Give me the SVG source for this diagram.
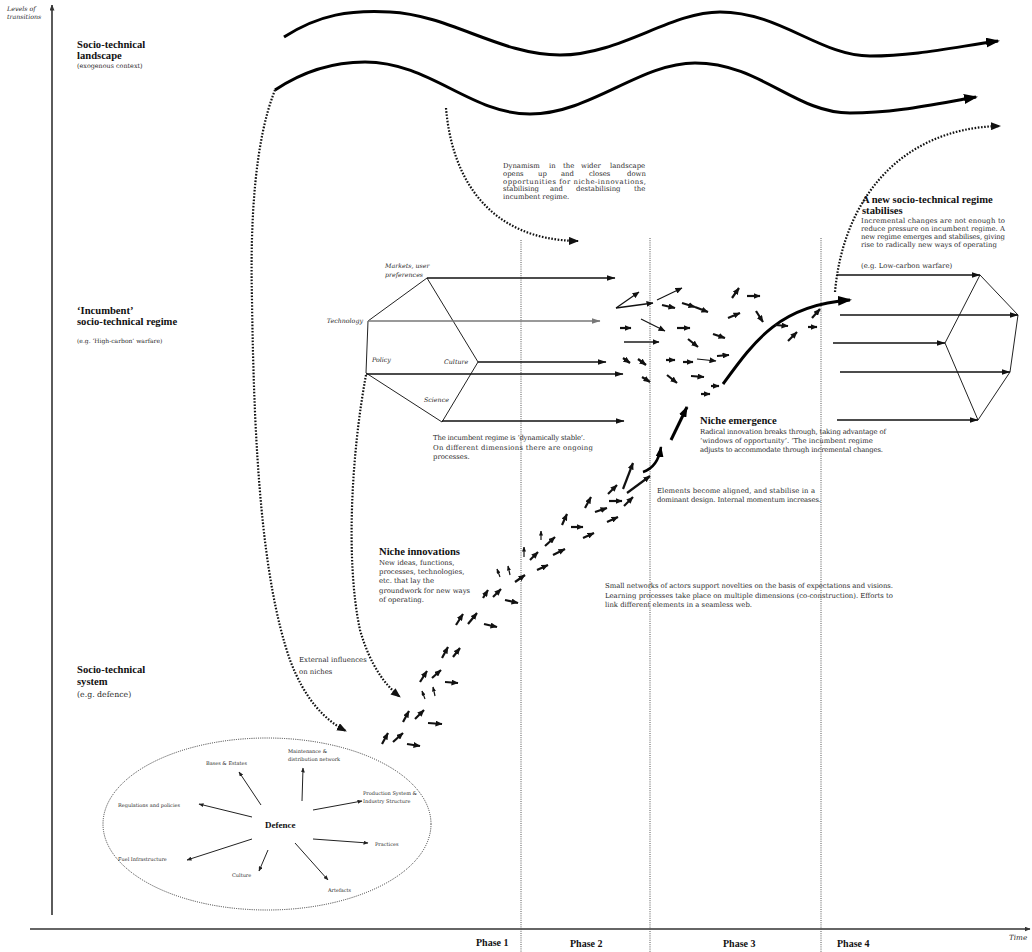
<svg xmlns="http://www.w3.org/2000/svg" width="1032" height="952" viewBox="0 0 1032 952">
<style>
text{font-family:"DejaVu Serif","Liberation Serif",serif;fill:#2a2a2a;font-size:6.9px}
.h{font-family:"Liberation Serif","DejaVu Serif",serif;font-weight:bold;font-size:10.6px;fill:#111}
.i{font-style:italic;font-size:6.3px}
.s{font-size:5px}
.ph{font-family:"Liberation Serif",serif;font-weight:bold;font-size:10px;fill:#111}
.edge{stroke:#222;stroke-width:1;fill:none}
.dim{stroke:#111;stroke-width:1.4;marker-end:url(#ah)}
.sw{stroke:#111;stroke-width:2.2;marker-end:url(#as)}
.swt{stroke:#111;stroke-width:1.1;marker-end:url(#as)}
.sws{stroke:#111;stroke-width:1.2;marker-end:url(#ass)}
.dot{stroke:#111;stroke-width:2.2;stroke-dasharray:1.6 1.6;fill:none;marker-end:url(#ad)}
.pl{stroke:#555;stroke-width:1;stroke-dasharray:1 1.2;fill:none}
.wave{stroke:#000;stroke-width:3;fill:none;marker-end:url(#ab)}
.spk{stroke:#222;stroke-width:1;marker-end:url(#at)}
.axis{stroke:#333;stroke-width:1.6;marker-end:url(#ax)}
.txt{opacity:0.995}
</style>
<defs>
<marker id="ab" viewBox="0 0 14 10" refX="12" refY="5" markerWidth="14" markerHeight="10" markerUnits="userSpaceOnUse" orient="auto"><path d="M0,0 L14,5 L0,10 z" fill="#000"/></marker>
<marker id="ah" viewBox="0 0 9 6" refX="8.5" refY="3" markerWidth="9" markerHeight="6" markerUnits="userSpaceOnUse" orient="auto"><path d="M0,0 L9,3 L0,6 z" fill="#111"/></marker>
<marker id="ag" viewBox="0 0 9 6" refX="8.5" refY="3" markerWidth="9" markerHeight="6" markerUnits="userSpaceOnUse" orient="auto"><path d="M0,0 L9,3 L0,6 z" fill="#777"/></marker>
<marker id="as" viewBox="0 0 7 6" refX="6.5" refY="3" markerWidth="7" markerHeight="6" markerUnits="userSpaceOnUse" orient="auto"><path d="M0,0 L7,3 L0,6 z" fill="#111"/></marker>
<marker id="ass" viewBox="0 0 5 4" refX="4.5" refY="2" markerWidth="5" markerHeight="4" markerUnits="userSpaceOnUse" orient="auto"><path d="M0,0 L5,2 L0,4 z" fill="#111"/></marker>
<marker id="am" viewBox="0 0 11 8" refX="10" refY="4" markerWidth="11" markerHeight="8" markerUnits="userSpaceOnUse" orient="auto"><path d="M0,0 L11,4 L0,8 z" fill="#000"/></marker>
<marker id="ad" viewBox="0 0 10 8" refX="9" refY="4" markerWidth="10" markerHeight="8" markerUnits="userSpaceOnUse" orient="auto"><path d="M0,0 L10,4 L0,8 z" fill="#111"/></marker>
<marker id="at" viewBox="0 0 5 4" refX="4.5" refY="2" markerWidth="5" markerHeight="4" markerUnits="userSpaceOnUse" orient="auto"><path d="M0,0 L5,2 L0,4 z" fill="#222"/></marker>
<marker id="ax" viewBox="0 0 6 5" refX="5.5" refY="2.5" markerWidth="6" markerHeight="5" markerUnits="userSpaceOnUse" orient="auto"><path d="M0,0 L6,2.5 L0,5 z" fill="#333"/></marker>
</defs>
<rect width="1032" height="952" fill="#fff"/>

<g class="txt">
<g id="axes">
<line class="axis" x1="52" y1="915" x2="52" y2="5"/>
<line class="axis" x1="30" y1="929" x2="1030" y2="929"/>
<text class="i" x="7" y="11">Levels of</text>
<text class="i" x="7" y="19">transitions</text>
<text class="i" x="1009" y="940" style="font-size:7.2px">Time</text>
</g>

<g id="phases">
<line class="pl" x1="521" y1="240" x2="521" y2="952"/>
<line class="pl" x1="650" y1="238" x2="650" y2="952"/>
<line class="pl" x1="821" y1="238" x2="821" y2="952"/>
<text class="ph" x="476" y="946">Phase 1</text>
<text class="ph" x="570" y="947">Phase 2</text>
<text class="ph" x="723" y="947">Phase 3</text>
<text class="ph" x="837" y="947">Phase 4</text>
</g>

<g id="level-landscape">
<text class="h" x="77" y="48">Socio-technical</text>
<text class="h" x="77" y="59">landscape</text>
<text x="77" y="68" style="font-size:6.4px">(exogenous context)</text>
</g>
<g id="level-regime">
<text class="h" x="77" y="314">‘Incumbent’</text>
<text class="h" x="77" y="325">socio-technical regime</text>
<text x="77" y="343" style="font-size:6px">(e.g. ‘High-carbon’ warfare)</text>
</g>
<g id="level-system">
<text class="h" x="77" y="673">Socio-technical</text>
<text class="h" x="77" y="685">system</text>
<text x="77" y="697" style="font-size:7.8px">(e.g. defence)</text>
</g>

<g id="dynamism-note">
<text y="168"><tspan x="503">Dynamism</tspan><tspan x="549">in</tspan><tspan x="563">the</tspan><tspan x="581">wider</tspan><tspan x="610">landscape</tspan></text>
<text y="176"><tspan x="503">opens</tspan><tspan x="538">up</tspan><tspan x="561">and</tspan><tspan x="589">closes</tspan><tspan x="627">down</tspan></text>
<text x="503" y="184" textLength="143" lengthAdjust="spacing">opportunities for niche-innovations,</text>
<text y="191"><tspan x="503">stabilising</tspan><tspan x="550">and</tspan><tspan x="576">destabilising</tspan><tspan x="634">the</tspan></text>
<text x="503" y="199">incumbent regime.</text>
</g>

<g id="incumbent-regime">
<polyline class="edge" points="427,278 368,321 366,373 442,422 478,362 427,278"/>
<text class="i" x="385" y="268">Markets, user</text>
<text class="i" x="385" y="277">preferences</text>
<text class="i" x="363" y="323" text-anchor="end">Technology</text>
<text class="i" x="372" y="362">Policy</text>
<text class="i" x="444" y="364">Culture</text>
<text class="i" x="424" y="402">Science</text>
<text x="433" y="440" textLength="152" lengthAdjust="spacing">The incumbent regime is ‘dynamically stable’.</text>
<text x="433" y="450" textLength="160" lengthAdjust="spacing">On different dimensions there are ongoing</text>
<text x="433" y="459">processes.</text>
</g>

<g id="new-regime">
<polyline class="edge" points="980,275 1018,315 1010,372 978,420 945,343 980,275"/>
<text class="h" x="862" y="203">A new socio-technical regime</text>
<text class="h" x="862" y="214">stabilises</text>
<text x="861" y="223" textLength="144" lengthAdjust="spacing">Incremental changes are not enough to</text>
<text x="861" y="231" textLength="144" lengthAdjust="spacing">reduce pressure on incumbent regime. A</text>
<text x="861" y="239" textLength="144" lengthAdjust="spacing">new regime emerges and stabilises, giving</text>
<text x="861" y="247">rise to radically new ways of operating</text>
<text x="861" y="268">(e.g. Low-carbon warfare)</text>
</g>

<g id="niche-emergence">
<text class="h" x="700" y="424">Niche emergence</text>
<text x="700" y="434" textLength="186" lengthAdjust="spacing">Radical innovation breaks through, taking advantage of</text>
<text x="700" y="443">‘windows of opportunity’. ‘The incumbent regime</text>
<text x="700" y="452" textLength="183" lengthAdjust="spacing">adjusts to accommodate through incremental changes.</text>
</g>

<g id="alignment-note">
<text x="657" y="493" textLength="158" lengthAdjust="spacing">Elements become aligned, and stabilise in a</text>
<text x="657" y="502" textLength="164" lengthAdjust="spacing">dominant design. Internal momentum increases.</text>
</g>

<g id="niche-innovations">
<text class="h" x="379" y="555">Niche innovations</text>
<text x="379" y="565">New ideas, functions,</text>
<text x="379" y="574">processes, technologies,</text>
<text x="379" y="583">etc. that lay the</text>
<text x="379" y="593">groundwork for new ways</text>
<text x="379" y="602">of operating.</text>
</g>

<g id="small-networks-note">
<text x="605" y="588" textLength="288" lengthAdjust="spacing">Small networks of actors support novelties on the basis of expectations and visions.</text>
<text x="605" y="598" textLength="288" lengthAdjust="spacing">Learning processes take place on multiple dimensions (co-construction). Efforts to</text>
<text x="605" y="607">link different elements in a seamless web.</text>
</g>

<g id="external-influences">
<text x="299" y="662">External influences</text>
<text x="299" y="674">on niches</text>
</g>

<g id="defence-system">
<ellipse cx="267" cy="824" rx="164" ry="86" fill="none" stroke="#333" stroke-width="1" stroke-dasharray="1 1.2"/>
<text x="265" y="828" style="font-family:'Liberation Serif',serif;font-weight:bold;font-size:9px;fill:#111">Defence</text>
<text class="s" x="206" y="765">Bases &amp; Estates</text>
<text class="s" x="288" y="753">Maintenance &amp;</text>
<text class="s" x="288" y="761">distribution network</text>
<text class="s" x="363" y="795">Production System &amp;</text>
<text class="s" x="363" y="803">Industry Structure</text>
<text class="s" x="375" y="846">Practices</text>
<text class="s" x="328" y="892">Artefacts</text>
<text class="s" x="232" y="877">Culture</text>
<text class="s" x="118" y="861">Fuel Infrastructure</text>
<text class="s" x="118" y="807">Regulations and policies</text>
<line class="spk" x1="261" y1="805" x2="239" y2="772"/>
<line class="spk" x1="302" y1="801" x2="303" y2="768"/>
<line class="spk" x1="313" y1="810" x2="362" y2="801"/>
<line class="spk" x1="313" y1="839" x2="368" y2="843"/>
<line class="spk" x1="295" y1="843" x2="328" y2="880"/>
<line class="spk" x1="268" y1="850" x2="259" y2="871"/>
<line class="spk" x1="252" y1="839" x2="187" y2="860"/>
<line class="spk" x1="252" y1="817" x2="199" y2="804"/>
</g>

<g id="connectors">
<path class="wave" d="M284,37 C320,14 350,10 390,12 C450,15 500,55 560,55 C620,55 670,12 720,12 C780,12 820,56 870,56 C915,56 955,47 998,41"/>
<path class="wave" d="M275,90 C305,70 335,62 365,62 C430,62 470,114 530,114 C590,114 640,63 695,63 C760,63 795,113 850,113 C895,113 935,104 976,97"/>
<path class="dot" d="M275,90 C255,140 250,220 252,300 C254,450 262,580 290,660 C305,700 325,720 346,731"/>
<path class="dot" d="M446,108 C452,180 490,240 578,241"/>
<path class="dot" d="M366,375 C352,450 345,560 360,630 C370,665 385,685 400,697"/>
<path class="dot" d="M835,292 C843,200 900,128 1000,126"/>

<line class="dim" x1="427" y1="278" x2="615" y2="278"/>
<line x1="368" y1="321" x2="600" y2="321" stroke="#777" stroke-width="1.4" marker-end="url(#ag)"/>
<line class="dim" x1="478" y1="362" x2="606" y2="362"/>
<line class="dim" x1="366" y1="374" x2="623" y2="374"/>
<line class="dim" x1="442" y1="421" x2="624" y2="421"/>

<line class="dim" x1="837" y1="275" x2="980" y2="275"/>
<line class="dim" x1="840" y1="315" x2="1018" y2="315"/>
<line class="dim" x1="833" y1="343" x2="945" y2="343"/>
<line class="dim" x1="840" y1="372" x2="1010" y2="372"/>
<line class="dim" x1="837" y1="420" x2="978" y2="420"/>

<path d="M723,384 C755,340 780,305 850,300" stroke="#000" stroke-width="3" fill="none" marker-end="url(#ab)"/>
<path d="M643,472 Q658,467 661,447" stroke="#000" stroke-width="2.5" fill="none" marker-end="url(#am)"/>
<line x1="671" y1="440" x2="687" y2="407" stroke="#000" stroke-width="3" marker-end="url(#am)"/>

<line class="swt" x1="616" y1="308" x2="639" y2="292"/>
<line class="sw" x1="616" y1="308" x2="653" y2="303" style="stroke-width:1.6"/>
<line class="swt" x1="657" y1="300" x2="682" y2="288"/>
<line class="swt" x1="641" y1="319" x2="665" y2="331"/>
<line class="swt" x1="697" y1="359" x2="716" y2="361"/>
<line x1="624" y1="342" x2="659" y2="342" stroke="#555" stroke-width="2" marker-end="url(#as)"/>
<line class="sw" x1="662" y1="305" x2="675" y2="308"/>
<line class="sw" x1="682" y1="303" x2="695" y2="307"/>
<line class="sw" x1="695" y1="307" x2="708" y2="312"/>
<line class="sw" x1="732" y1="298" x2="739" y2="288"/>
<line class="sw" x1="747" y1="296" x2="760" y2="296"/>
<line class="sw" x1="620" y1="328" x2="631" y2="328"/>
<line class="sw" x1="677" y1="328" x2="690" y2="328"/>
<line class="sw" x1="728" y1="318" x2="740" y2="313"/>
<line class="sw" x1="756" y1="311" x2="763" y2="322"/>
<line class="sw" x1="688" y1="339" x2="698" y2="347"/>
<line class="sw" x1="713" y1="334" x2="725" y2="338"/>
<line class="sw" x1="775" y1="325" x2="788" y2="326"/>
<line class="sw" x1="788" y1="341" x2="797" y2="332"/>
<line class="sw" x1="808" y1="327" x2="817" y2="327"/>
<line class="sw" x1="812" y1="318" x2="820" y2="309"/>
<line class="sw" x1="623" y1="358" x2="630" y2="363"/>
<line class="sw" x1="638" y1="359" x2="646" y2="365"/>
<line class="sw" x1="666" y1="360" x2="675" y2="360"/>
<line class="sw" x1="683" y1="362" x2="693" y2="362"/>
<line class="sw" x1="717" y1="356" x2="729" y2="355"/>
<line class="sw" x1="642" y1="377" x2="650" y2="382"/>
<line class="sw" x1="667" y1="375" x2="677" y2="383"/>
<line class="sw" x1="691" y1="376" x2="704" y2="377"/>
<line class="sw" x1="711" y1="386" x2="719" y2="386"/>
<line class="sw" x1="701" y1="394" x2="710" y2="394"/>

<line class="sws" x1="524" y1="557" x2="524" y2="547"/>
<line class="sws" x1="541" y1="540" x2="541" y2="531"/>
<line class="sw" x1="530" y1="560" x2="538" y2="552"/>
<line class="sw" x1="545" y1="546" x2="555" y2="537"/>
<line class="sw" x1="537" y1="570" x2="548" y2="565"/>
<line class="sw" x1="553" y1="555" x2="565" y2="549"/>
<line class="sw" x1="562" y1="525" x2="567" y2="514"/>
<line class="sw" x1="571" y1="527" x2="583" y2="527"/>
<line class="sw" x1="583" y1="538" x2="594" y2="533"/>
<line class="sw" x1="585" y1="508" x2="591" y2="497"/>
<line class="sw" x1="595" y1="512" x2="607" y2="508"/>
<line class="sw" x1="607" y1="522" x2="618" y2="517"/>
<line class="sw" x1="608" y1="494" x2="617" y2="485"/>
<line class="sw" x1="609" y1="501" x2="622" y2="501"/>
<line class="sw" x1="624" y1="506" x2="633" y2="497"/>
<line class="sw" x1="623" y1="489" x2="633" y2="463"/>
<line class="sw" x1="627" y1="493" x2="650" y2="476"/>
<line class="sws" x1="500" y1="577" x2="497" y2="569"/>
<line class="sws" x1="510" y1="575" x2="508" y2="566"/>
<line class="sw" x1="515" y1="582" x2="525" y2="575"/>
<line class="sw" x1="483" y1="598" x2="488" y2="590"/>
<line class="sw" x1="493" y1="597" x2="501" y2="589"/>
<line class="sw" x1="505" y1="600" x2="518" y2="603"/>
<line class="sw" x1="456" y1="625" x2="463" y2="614"/>
<line class="sw" x1="468" y1="624" x2="477" y2="613"/>
<line class="sw" x1="484" y1="624" x2="497" y2="627"/>
<line class="sw" x1="442" y1="658" x2="448" y2="647"/>
<line class="sw" x1="453" y1="657" x2="460" y2="648"/>
<line class="sw" x1="420" y1="682" x2="427" y2="671"/>
<line class="sw" x1="432" y1="678" x2="441" y2="670"/>
<line class="sw" x1="445" y1="682" x2="458" y2="683"/>
<line class="sws" x1="425" y1="699" x2="422" y2="691"/>
<line class="sws" x1="435" y1="696" x2="433" y2="687"/>
<line class="sw" x1="403" y1="722" x2="409" y2="711"/>
<line class="sw" x1="415" y1="719" x2="424" y2="710"/>
<line class="sw" x1="428" y1="723" x2="442" y2="724"/>
<line class="sw" x1="382" y1="744" x2="388" y2="733"/>
<line class="sw" x1="393" y1="742" x2="403" y2="733"/>
<line class="sw" x1="407" y1="744" x2="420" y2="746"/>
</g>
</g>
</svg>
